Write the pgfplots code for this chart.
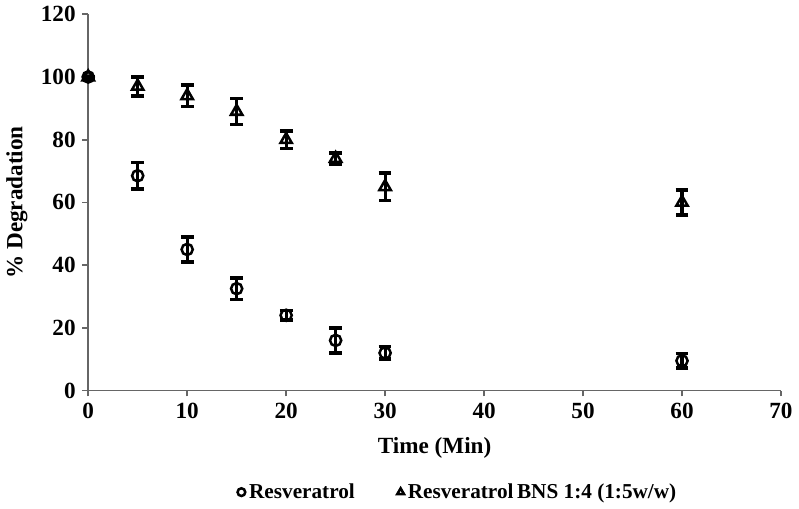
\documentclass[border=0pt]{standalone}
\usepackage{pgfplots}
\pgfplotsset{compat=1.18}
\usepackage{fontspec}
\setmainfont{Liberation Serif}

\pgfplotstableread{
x   y    e
0   100  0
5   68.5 4.2
10  45   4
15  32.5 3.4
20  24   1.5
25  16   4
30  12   2
60  9.5  2.3
}\resv
\pgfplotstableread{
x   y    e
0   100  0
5   97   3
10  94   3.5
15  89   4.2
20  80   2.8
25  74   1.8
30  65   4.4
60  60   4
}\bns

\begin{document}
\begin{tikzpicture}
\begin{axis}[
  scale only axis,
  width=359pt, height=195pt,
  xmin=0, xmax=70, ymin=0, ymax=120,
  xtick={0,10,...,70}, ytick={0,20,...,120},
  axis lines=left,
  axis line style={-, draw=gray!80!black, line width=0.9pt},
  tick style={draw=gray!80!black, line width=0.9pt},
  tick align=outside, major tick length=3pt,
  ticklabel style={font=\large\bfseries},
  /pgf/number format/assume math mode=true,
  xlabel={\bfseries Time (Min)},
  ylabel={\bfseries \% Degradation},
  label style={font=\large},
  xlabel style={yshift=-3pt},
  ylabel style={yshift=0pt},
  legend style={at={(0.535,-0.225)}, anchor=north, draw=none,
    font=\bfseries\fontsize{11}{13}\selectfont, legend columns=2,
    /tikz/every even column/.append style={column sep=20pt}},
  legend image code/.code={\draw[mark repeat=2,mark phase=2, #1, mark size=2pt, line width=0.4pt] plot coordinates {(0cm,0cm) (0.15cm,0cm) (0.3cm,0cm)};},
  legend cell align=left,
  clip=false,
]
\addplot[only marks, mark=o, mark size=2.9pt, mark options={line width=1.3pt, fill=white},
  error bars/.cd, y dir=both, y explicit,
  error bar style={line width=1.6pt, black},
  error mark options={rotate=90, mark size=3.3pt, line width=1.8pt}]
  table[x=x, y=y, y error=e] {\resv};
\addlegendentry{Resveratrol}
\addplot[only marks, mark=triangle, mark size=3.4pt, mark options={line width=1.3pt},
  error bars/.cd, y dir=both, y explicit,
  error bar style={line width=1.6pt, black},
  error mark options={rotate=90, mark size=3.3pt, line width=1.8pt}]
  table[x=x, y=y, y error=e] {\bns};
\addlegendentry{Resveratrol\,BNS 1:4 (1:5w/w)}
\end{axis}
\end{tikzpicture}
\end{document}
